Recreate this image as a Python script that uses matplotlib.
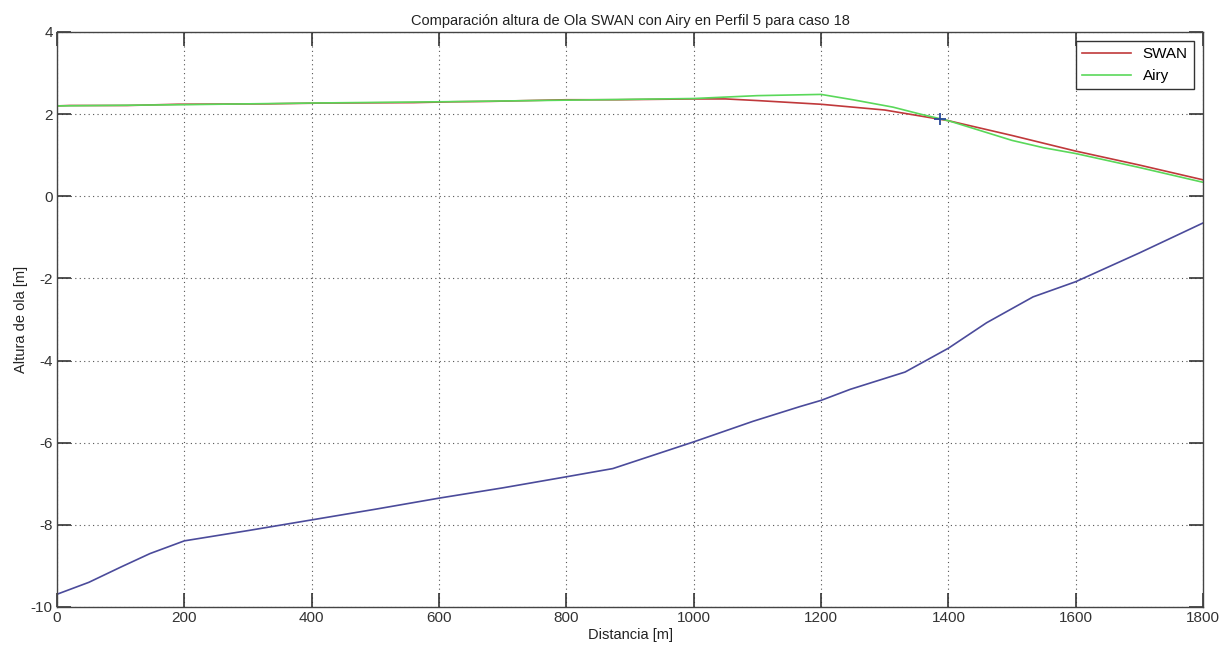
import matplotlib
matplotlib.use('Agg')
import matplotlib.pyplot as plt

plt.rcParams['font.family'] = ['Liberation Sans', 'DejaVu Sans']
plt.rcParams['axes.unicode_minus'] = False

# perfil 5, caso 18
x_swan = [0, 20, 110, 190, 330, 420, 560, 620, 680, 800, 880, 1000, 1050, 1100, 1200, 1300, 1400, 1500, 1600, 1700, 1800]
h_swan = [2.20, 2.21, 2.21, 2.24, 2.25, 2.27, 2.28, 2.30, 2.31, 2.35, 2.35, 2.37, 2.37, 2.33, 2.24, 2.10, 1.84, 1.48, 1.10, 0.76, 0.40]

x_airy = [0, 200, 400, 600, 800, 1000, 1100, 1200, 1250, 1313, 1356, 1400, 1500, 1550, 1600, 1700, 1800]
h_airy = [2.20, 2.23, 2.27, 2.30, 2.34, 2.38, 2.45, 2.48, 2.35, 2.17, 2.00, 1.84, 1.36, 1.18, 1.04, 0.70, 0.34]

x_fondo = [0, 50, 100, 146, 200, 300, 400, 500, 600, 700, 800, 873, 1000, 1093, 1167, 1200, 1246, 1332, 1400, 1460, 1533, 1600, 1700, 1800]
z_fondo = [-9.69, -9.40, -9.03, -8.70, -8.39, -8.14, -7.88, -7.62, -7.35, -7.10, -6.83, -6.63, -5.98, -5.48, -5.12, -4.97, -4.70, -4.28, -3.70, -3.08, -2.45, -2.08, -1.38, -0.65]

# punto de rompiente
x_rompe = [1387]
h_rompe = [1.88]

fig = plt.figure(figsize=(12.31, 6.46), dpi=100)
ax = fig.add_axes([0.0463, 0.0604, 0.931, 0.8901])

ax.plot(x_swan, h_swan, color='#c0393b', lw=1.2, label='SWAN')
ax.plot(x_airy, h_airy, color='#5ad85a', lw=1.2, label='Airy')
ax.plot(x_fondo, z_fondo, color='#4b4b9b', lw=1.2)
ax.plot(x_rompe, h_rompe, '+', color='#2a4a9a', ms=8, mew=1.3)

ax.set_xlim(0, 1800)
ax.set_ylim(-10, 4)
ax.set_xticks(range(0, 1801, 200))
ax.set_yticks(range(-10, 5, 2))
ax.grid(True, color='#555555', linestyle=(0, (1, 3)), linewidth=0.8)
ax.tick_params(direction='in', top=True, right=True, length=10, width=1.2, labelsize=11, colors='#333333', pad=3)
for s in ax.spines.values():
    s.set_color('#444444')
    s.set_linewidth(1.0)

ax.set_title('Comparación altura de Ola SWAN con Airy en Perfil 5 para caso 18', fontsize=10.5, color='#222222', pad=5)
ax.set_xlabel('Distancia [m]', fontsize=10.5, color='#222222', labelpad=2)
ax.set_ylabel('Altura de ola [m]', fontsize=10.5, color='#222222', labelpad=2)

leg = ax.legend(loc='upper right', fontsize=11, fancybox=False, framealpha=1,
                edgecolor='#333333', handlelength=3.2, borderaxespad=0.6)
leg.get_frame().set_linewidth(1.0)

fig.savefig('out.png', dpi=100)
